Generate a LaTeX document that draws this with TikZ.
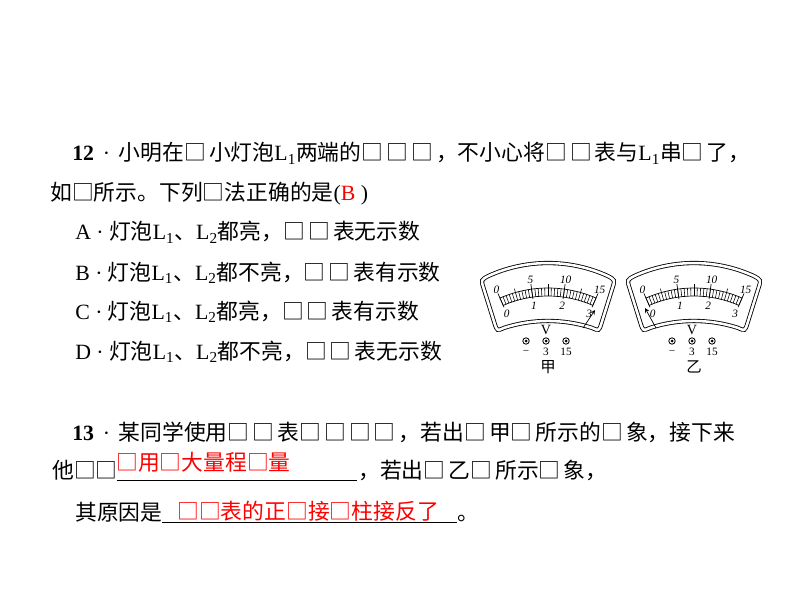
\documentclass[tikz,border=0pt]{standalone}
\usepackage{fontspec}
\setmainfont{Noto Sans CJK SC}
\newfontfamily\lat{Liberation Serif}
\newcommand{\Lsub}[1]{{\lat L\textsubscript{#1}}}
\newcommand{\bx}{□\kern2.2pt}
\newcommand{\qno}[1]{{\lat\textbf{#1}\hspace{.4em}·\hspace{.4em}}}
\tikzset{
  line/.style={anchor=base west,inner sep=0pt,font=\fontsize{15.5}{18}\selectfont},
  ans/.style={line,text=red},
  rim/.style={double,double distance=1.8pt,line width=.6pt},
  scl/.style={inner sep=0pt,font=\fontsize{8}{8}\selectfont\lat\itshape},
}
\begin{document}
\begin{tikzpicture}[x=.025cm,y=.025cm]
  \useasboundingbox (0,0) rectangle (800,600);
  % question 12
  \node[line] (l1) at (72,439) {\qno{12}小明在\bx 小灯泡\Lsub{1}两端的\bx\bx\bx，不小心将\bx\bx 表与\Lsub{1}串\bx 了，};
  \node[line] (l2) at (50,399) {如□所示。下列□法正确的是{\lat(\textcolor{red}{B} )}};
  \node[line] (oa) at (75,360) {{\lat A · }灯泡\Lsub{1}、\Lsub{2}都亮，\bx\bx 表无示数};
  \node[line] (ob) at (75,320) {{\lat B · }灯泡\Lsub{1}、\Lsub{2}都不亮，\bx\bx 表有示数};
  \node[line] (oc) at (75,281) {{\lat C · }灯泡\Lsub{1}、\Lsub{2}都亮，\bx\bx 表有示数};
  \node[line] (od) at (75,241) {{\lat D · }灯泡\Lsub{1}、\Lsub{2}都不亮，\bx\bx 表无示数};
  % the two voltmeters
  \foreach \k/\mx/\name/\px/\py/\qx/\qy in {1/548/甲/35/-28/47/-10,2/694/乙/-38/-28/-49/-8}{
    \begin{scope}[shift={(\mx,300)}]
      \draw[rim] (-64.6,12.4) .. controls (-67,20) .. (-59.9,23.9)
        arc[start angle=114.6,end angle=65.4,radius=144]
        .. controls (67,20) .. (64.6,12.4) -- (53.4,-23.4)
        .. controls (51,-31) .. (43.7,-27.8)
        arc[start angle=72.2,end angle=107.8,radius=143]
        .. controls (-51,-31) .. (-53.4,-23.4) -- cycle;
      \draw[line width=.5pt] ([shift={(0,-108)}]113.6:120) arc[start angle=113.6,end angle=66.4,radius=120];
      \draw[line width=.5pt] ([shift={(0,-108)}]113.6:112) arc[start angle=113.6,end angle=66.4,radius=112];
      \foreach \i in {0,...,30}
        \draw[line width=.4pt] ([shift={(0,-108)}]{113.6-\i*1.5733}:112) -- ([shift={(0,-108)}]{113.6-\i*1.5733}:120);
      \foreach \i in {5,15,25}
        \draw[line width=.4pt] ([shift={(0,-108)}]{113.6-\i*1.5733}:119) -- ([shift={(0,-108)}]{113.6-\i*1.5733}:124);
      \foreach \i in {0,10,20,30}
        \draw[line width=.5pt] ([shift={(0,-108)}]{113.6-\i*1.5733}:110) -- ([shift={(0,-108)}]{113.6-\i*1.5733}:125);
      \foreach \v/\a in {0/113.6,5/97.87,10/82.13,15/66.4}
        \node[scl] (up\k-\v) at ([shift={(0,-108)}]\a:129) {\v};
      \foreach \v/\a in {0/113.6,1/97.87,2/82.13,3/66.4}
        \node[scl] (lo\k-\v) at ([shift={(0,-108)}]\a:103) {\v};
      \draw[-stealth,line width=.5pt] (\px,\py) -- (\qx,\qy);
      \node[font=\fontsize{10}{10}\selectfont\lat] (v\k) at (-2,-30) {V};
      \foreach \t/\lab in {-22/−,-2/3,18/15}{
        \draw[line width=.6pt] (\t,-41) circle[radius=3.2];
        \fill (\t,-41) circle[radius=1.5];
        \node[inner sep=0pt,font=\fontsize{8}{8}\selectfont\lat] (c\k\lab) at (\t,-52) {\lab};
      }
      \node[font=\fontsize{11}{11}\selectfont] (n\k) at (0,-67) {\name};
    \end{scope}
  }
  % question 13
  \node[line] (l3) at (72,160) {\qno{13}某同学使用\bx\bx 表\bx\bx\bx\bx，若出\bx 甲\bx 所示的\bx 象，接下来};
  \node[line] (l4) at (52,122) {他□□};
  \coordinate (u1) at (117,120);
  \coordinate (u1e) at (357,120);
  \draw[line width=.6pt] (u1) -- (u1e);
  \node[ans] (a1) at (116,130) {□用□大量程□量};
  \node[line] (l4b) at (358,122) {，若出\bx 乙\bx 所示\bx 象，};
  \node[line] (l5) at (75,80) {其原因是};
  \coordinate (u2) at (162,78);
  \coordinate (u2e) at (457,78);
  \draw[line width=.6pt] (u2) -- (u2e);
  \node[ans] (a2) at (177,81) {□□表的正□接□柱接反了};
  \node[line] (l5b) at (457,80) {。};
\end{tikzpicture}
\end{document}
